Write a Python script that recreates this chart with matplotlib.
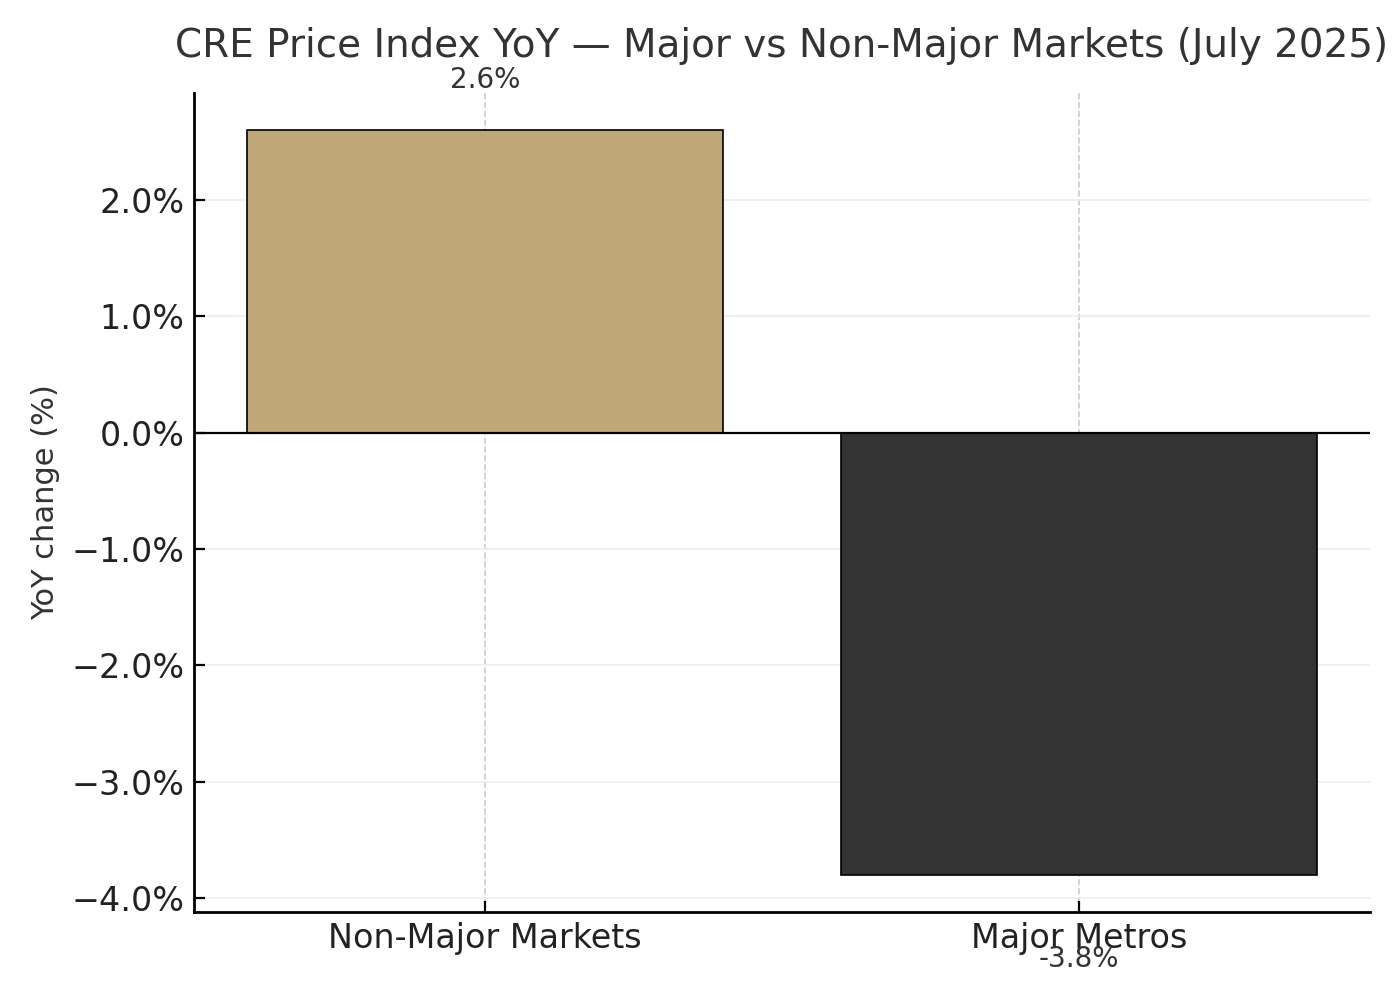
import numpy as np
import matplotlib
matplotlib.use("Agg")
import matplotlib.pyplot as plt
from matplotlib.ticker import FuncFormatter

# Data
markets = ["Non-Major Markets", "Major Metros"]
yoy_change = [2.6, -3.8]
bar_colors = ["#BFA77A", "#333333"]

fig, ax = plt.subplots(figsize=(7, 5), dpi=200)
fig.subplots_adjust(left=0.1386, right=0.9786, top=0.907, bottom=0.088)

x = np.arange(len(markets))
ax.bar(x, yoy_change, color=bar_colors, edgecolor="black", linewidth=0.6, width=0.8, zorder=3)
ax.axhline(0, color="black", linewidth=0.8, zorder=4)

# value labels
for xi, v in zip(x, yoy_change):
    if v >= 0:
        ax.text(xi, v + 0.31, f"{v:.1f}%", ha="center", va="bottom", fontsize=10, color="#333333")
    else:
        ax.text(xi, v - 0.6, f"{v:.1f}%", ha="center", va="top", fontsize=10, color="#333333")

ax.set_xticks(x)
ax.set_xticklabels(markets, fontsize=12, color="#222222")
ax.tick_params(axis="both", direction="in", length=4)
ax.tick_params(axis="y", labelsize=12, labelcolor="#222222")
ax.yaxis.set_major_formatter(FuncFormatter(lambda v, p: f"{v:.1f}%".replace("-", "\u2212")))
ax.set_ylabel("YoY change (%)", fontsize=11, color="#333333")
ax.set_title("CRE Price Index YoY \u2014 Major vs Non-Major Markets (July 2025)",
             fontsize=14, color="#333333", pad=13)

# grid
ax.yaxis.grid(True, color="#eeeeee", linewidth=0.6, zorder=0)
ax.xaxis.grid(True, color="#cccccc", linestyle="--", linewidth=0.6, zorder=0)
ax.set_axisbelow(True)

ax.spines["top"].set_visible(False)
ax.spines["right"].set_visible(False)
ax.spines["left"].set_linewidth(1.0)
ax.spines["bottom"].set_linewidth(1.0)

plt.savefig("out.png", dpi=200)
plt.close()
